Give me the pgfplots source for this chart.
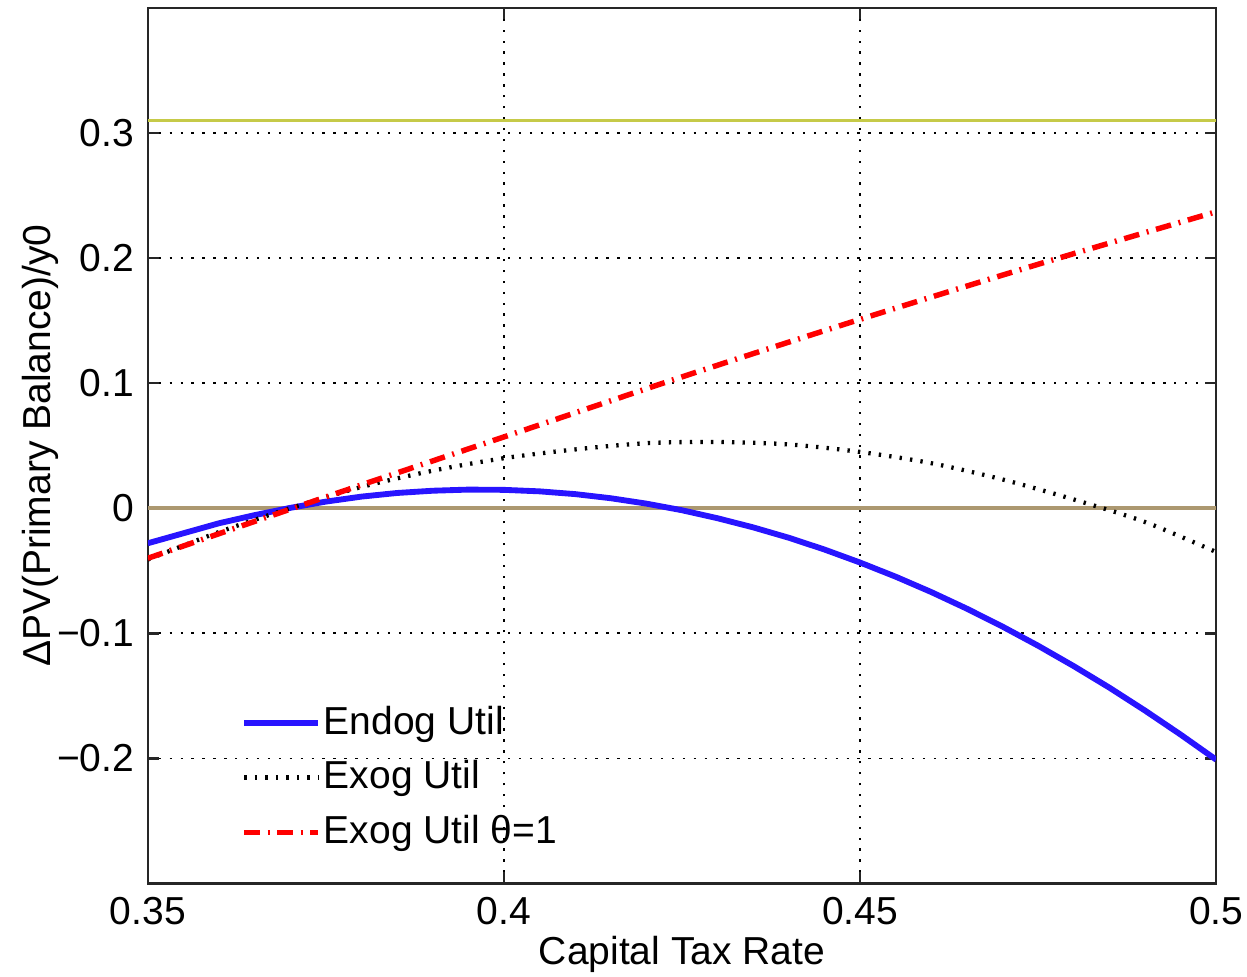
\documentclass[border=0pt]{standalone}
\usepackage{fontspec}
\setmainfont{Liberation Sans}
\usepackage{pgfplots}
\pgfplotsset{compat=1.18}

\definecolor{yline}{RGB}{198,202,72}
\definecolor{zline}{RGB}{172,152,112}
\definecolor{eblue}{RGB}{40,20,255}

\pgfplotstableread{
t v
0.350 -0.0280
0.355 -0.0200
0.360 -0.0120
0.365 -0.0055
0.370 0.0003
0.375 0.0053
0.380 0.0093
0.385 0.0122
0.390 0.0140
0.395 0.0149
0.400 0.0147
0.405 0.0135
0.410 0.0113
0.415 0.0080
0.420 0.0037
0.425 -0.0016
0.430 -0.0080
0.435 -0.0153
0.440 -0.0236
0.445 -0.0330
0.450 -0.0434
0.455 -0.0547
0.460 -0.0670
0.465 -0.0803
0.470 -0.0946
0.475 -0.1099
0.480 -0.1262
0.485 -0.1434
0.490 -0.1617
0.495 -0.1809
0.500 -0.2010
}\endog

\pgfplotstableread{
t v
0.350 -0.041
0.360 -0.019
0.370 0.000
0.380 0.017
0.390 0.030
0.400 0.040
0.410 0.047
0.420 0.052
0.430 0.053
0.440 0.051
0.450 0.045
0.460 0.036
0.470 0.023
0.480 0.007
0.490 -0.011
0.500 -0.035
}\exog

\pgfplotstableread{
t v
0.350 -0.040
0.375 0.009
0.400 0.057
0.425 0.105
0.450 0.151
0.475 0.195
0.500 0.237
}\exogtheta

\begin{document}
\begin{tikzpicture}
\begin{axis}[
  name=ax,
  scale only axis, width=274pt, height=224.6pt,
  xmin=0.35, xmax=0.5, ymin=-0.3, ymax=0.4,
  xtick={0.35,0.4,0.45,0.5}, xticklabels={0.35,0.4,0.45,0.5},
  ytick={-0.2,-0.1,0,0.1,0.2,0.3}, yticklabels={−0.2,−0.1,0,0.1,0.2,0.3},
  tick align=inside, major tick length=3pt,
  grid=major,
  major grid style={black, line width=0.45pt, dash pattern=on 0.6pt off 2.2pt},
  axis line style={line width=0.6pt, black!85},
  every tick/.style={line width=0.6pt, black!85},
  xlabel={Capital Tax Rate},
  ylabel={ΔPV(Primary Balance)/y0},
  xlabel style={at={(axis description cs:0.5,0)}, anchor=center, yshift=-18.2pt},
  ylabel style={at={(axis description cs:-0.1007,0.5)}, anchor=center},
  legend style={at={(axis description cs:0.0758,0.0225)}, anchor=south west,
    draw=none, fill=none, row sep=2.3pt,
    nodes={inner xsep=0.7pt, inner ysep=1.5pt}},
  legend cell align=left,
  legend image code/.code={\draw[#1] (0pt,0pt) -- (19pt,0pt);},
]
\addplot[yline, line width=0.6pt, forget plot] coordinates {(0.35,0.31) (0.5,0.31)};
\addplot[zline, line width=0.9pt, forget plot] coordinates {(0.35,0) (0.5,0)};
\addplot[eblue, line width=1.5pt] table[x=t,y=v] {\endog};
\addlegendentry{Endog Util}
\addplot[black, line width=1.1pt, dash pattern=on 0.6pt off 2.1pt, smooth] table[x=t,y=v] {\exog};
\addlegendentry{Exog Util}
\addplot[red, line width=1.4pt, dash pattern=on 4pt off 2pt on 0.5pt off 2pt, smooth] table[x=t,y=v] {\exogtheta};
\addlegendentry{Exog Util θ=1}
\end{axis}
\pgfresetboundingbox
\path ([shift={(-37.9pt,-23.8pt)}]ax.south west) rectangle ([shift={(7.9pt,2pt)}]ax.north east);
\end{tikzpicture}
\end{document}
